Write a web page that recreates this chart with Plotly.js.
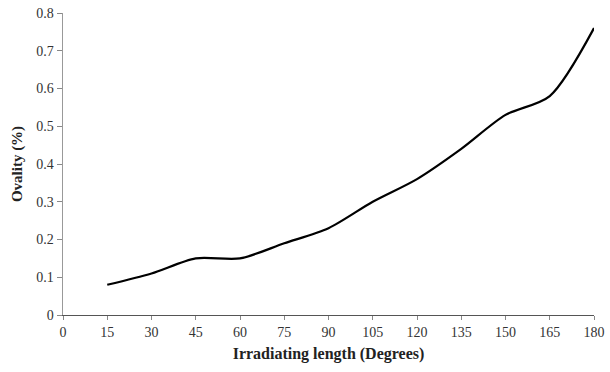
<!DOCTYPE html>
<html>
<head>
<meta charset="utf-8">
<script src="https://cdn.plot.ly/plotly-3.0.1.min.js"></script>
<style>html,body{margin:0;padding:0;background:#fff;}#chart{width:610px;height:372px;}</style>
</head>
<body>
<div id="chart"></div>
<script>
var irradiatingLength = [15, 30, 45, 60, 75, 90, 105, 120, 135, 150, 165, 180];
var ovality = [0.08, 0.11, 0.15, 0.15, 0.19, 0.23, 0.30, 0.36, 0.44, 0.53, 0.58, 0.76];
var xTicks = [0, 15, 30, 45, 60, 75, 90, 105, 120, 135, 150, 165, 180];
var yTicks = [0, 0.1, 0.2, 0.3, 0.4, 0.5, 0.6, 0.7, 0.8];

var font = "'Liberation Serif', 'Times New Roman', serif";
Plotly.newPlot('chart', [{
  x: irradiatingLength,
  y: ovality,
  type: 'scatter',
  mode: 'lines',
  line: {shape: 'spline', smoothing: 0.8, color: '#000', width: 2.2},
  hoverinfo: 'none'
}], {
  width: 610, height: 372,
  margin: {l: 63, r: 16, t: 13, b: 57},
  paper_bgcolor: '#fff', plot_bgcolor: '#fff',
  showlegend: false,
  font: {family: font, size: 14, color: '#333'},
  xaxis: {
    range: [0, 180],
    tickvals: xTicks,
    ticktext: xTicks.map(String),
    showgrid: false, zeroline: false,
    showline: true, linecolor: '#555', linewidth: 1.2,
    ticks: 'outside', ticklen: 4, tickcolor: '#888', tickwidth: 1,
    tickfont: {family: font, size: 14, color: '#333'},
    title: {text: '<b>Irradiating length (Degrees)</b>', font: {family: font, size: 16, color: '#222'}, standoff: 8}
  },
  yaxis: {
    range: [0, 0.8],
    tickvals: yTicks,
    ticktext: yTicks.map(String),
    showgrid: false, zeroline: false,
    showline: true, linecolor: '#999', linewidth: 1.5,
    ticks: 'outside', ticklen: 5, tickcolor: '#888', tickwidth: 1,
    tickfont: {family: font, size: 14, color: '#333'},
    title: {text: '<b>Ovality (%)</b>', font: {family: font, size: 15, color: '#222'}, standoff: 10}
  }
}, {displayModeBar: false, staticPlot: true});
</script>
</body>
</html>
